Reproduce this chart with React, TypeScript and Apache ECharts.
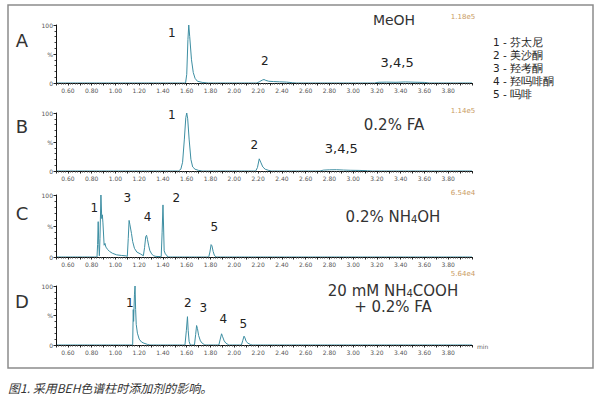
import React, { useEffect, useRef } from "react";
import * as echarts from "echarts";

// ---- data (retention time in min, relative intensity in %) ----
const traceA: [number, number][] = [
  [0.5, 0], [1.59, 0], [1.6, 15], [1.61, 75], [1.617, 100], [1.625, 80], [1.64, 40], [1.655, 18],
  [1.67, 8], [1.69, 3], [1.73, 1], [1.78, 0], [2.19, 0], [2.21, 2], [2.235, 5], [2.25, 6],
  [2.265, 4.5], [2.29, 3], [2.33, 2.5], [2.38, 2], [2.44, 1.5], [2.49, 0.5], [2.52, 0],
  [3.18, 0], [3.21, 1.2], [3.28, 1.5], [3.36, 1.2], [3.44, 1.8], [3.52, 1.3], [3.6, 1], [3.64, 0], [4.0, 0],
];
const traceB: [number, number][] = [
  [0.5, 0], [1.53, 0], [1.55, 3], [1.565, 15], [1.58, 55], [1.592, 92], [1.6, 100], [1.608, 90],
  [1.62, 55], [1.635, 20], [1.65, 7], [1.67, 3], [1.7, 1], [1.73, 0], [2.18, 0], [2.195, 6],
  [2.21, 21], [2.225, 14], [2.24, 7], [2.26, 3], [2.29, 1], [2.31, 0], [2.72, 0], [2.75, 1.5],
  [2.8, 2], [2.86, 2.2], [2.92, 1.6], [2.98, 1.2], [3.05, 1], [3.12, 0.5], [3.16, 0], [4.0, 0],
];
const traceC: [number, number][] = [
  [0.5, 0], [0.845, 0], [0.85, 20], [0.855, 57], [0.86, 20], [0.865, 2], [0.87, 30], [0.878, 100],
  [0.885, 62], [0.89, 68], [0.895, 55], [0.905, 19], [0.912, 22], [0.92, 16], [0.935, 12], [0.95, 9],
  [0.975, 6], [1.01, 3.5], [1.05, 2.5], [1.09, 1.8], [1.1, 1], [1.108, 30], [1.115, 59], [1.122, 52],
  [1.135, 38], [1.145, 25], [1.16, 14], [1.18, 8], [1.21, 5], [1.235, 2], [1.245, 15], [1.255, 33],
  [1.262, 35], [1.27, 28], [1.28, 18], [1.29, 10], [1.305, 5], [1.32, 2], [1.34, 1], [1.385, 0.5],
  [1.393, 40], [1.4, 84], [1.405, 50], [1.41, 10], [1.42, 5], [1.43, 3], [1.44, 0], [1.785, 0],
  [1.795, 8], [1.805, 20], [1.812, 18], [1.822, 9], [1.832, 3], [1.845, 0], [4.0, 0],
];
const traceD: [number, number][] = [
  [0.5, 0], [1.145, 0], [1.15, 60], [1.153, 40], [1.16, 85], [1.165, 100], [1.17, 60], [1.175, 35],
  [1.185, 20], [1.2, 10], [1.22, 5], [1.24, 3], [1.27, 1], [1.29, 0], [1.585, 0], [1.597, 25],
  [1.606, 48], [1.612, 25], [1.62, 6], [1.63, 0], [1.665, 0], [1.675, 18], [1.683, 33], [1.69, 28],
  [1.7, 16], [1.715, 7], [1.73, 3], [1.75, 0.5], [1.76, 0], [1.87, 0], [1.882, 10], [1.893, 19],
  [1.902, 14], [1.915, 7], [1.93, 3], [1.95, 0.5], [1.96, 0], [2.06, 0], [2.072, 8], [2.082, 15],
  [2.09, 12], [2.1, 6], [2.115, 3], [2.135, 1], [2.15, 0], [4.0, 0],
];
const traces = [traceA, traceB, traceC, traceD];

// peak annotations: [text, time, intensity]
const peaksA: [string, number, number][] = [["1", 1.474, 86], ["2", 2.256, 38], ["3,4,5", 3.37, 36]];
const peaksB: [string, number, number][] = [["1", 1.474, 97], ["2", 2.168, 45], ["3,4,5", 2.9, 38]];
const peaksC: [string, number, number][] = [["1", 0.822, 79], ["3", 1.1, 95], ["4", 1.27, 64], ["2", 1.512, 95], ["5", 1.831, 48]];
const peaksD: [string, number, number][] = [["1", 1.12, 71], ["2", 1.609, 71], ["3", 1.739, 63], ["4", 1.907, 44], ["5", 2.076, 36]];
const peaks = [peaksA, peaksB, peaksC, peaksD];

const panelLetters = ["A", "B", "C", "D"];
const scaleLabels = ["1.18e5", "1.14e5", "6.54e4", "5.64e4"];
const legendItems = ["1 - 芬太尼", "2 - 美沙酮", "3 - 羟考酮", "4 - 羟吗啡酮", "5 - 吗啡"];
const caption = "图1. 采用BEH色谱柱时添加剂的影响。";
const xMin = 0.5;
const xMax = 4.0;

// layout
const gridTops = [25, 113, 195, 286];
const gridHeights = [58, 58, 62, 59];
const gridLeft = 56;
const gridWidth = 416;

const FONT = "DejaVu Sans";
const LINE = "#3d8ea2";

export default function App() {
  const ref = useRef<HTMLDivElement>(null);
  useEffect(() => {
    if (!ref.current) return;
    const chart = echarts.init(ref.current, null, { renderer: "svg" });
    const grids = gridTops.map((t, i) => ({ left: gridLeft, width: gridWidth, top: t, height: gridHeights[i] }));
    const xAxes = gridTops.map((_, i) => ({
      type: "value",
      gridIndex: i,
      min: xMin,
      max: xMax,
      interval: 0.1,
      z: 3,
      axisLine: { lineStyle: { color: "#111", width: 1 } },
      axisTick: { show: true, length: 2.5, lineStyle: { color: "#222" } },
      minorTick: { show: true, splitNumber: 5, length: 1.5, lineStyle: { color: "#444" } },
      splitLine: { show: false },
      axisLabel: {
        fontSize: 6,
        color: "#555",
        fontFamily: FONT,
        margin: 4,
        formatter: (v: number) => {
          const k = Math.round(v * 10);
          if (Math.abs(v * 10 - k) > 1e-6 || k % 2 !== 0 || k < 6 || k > 38) return "";
          return (k / 10).toFixed(2);
        },
      },
    }));
    const yAxes = gridTops.map((_, i) => ({
      type: "value",
      gridIndex: i,
      min: 0,
      max: 100,
      interval: 50,
      z: 3,
      axisLine: { show: true, lineStyle: { color: "#111", width: 1 } },
      axisTick: { show: true, length: 2.5, lineStyle: { color: "#222" } },
      minorTick: { show: true, splitNumber: 5, length: 1.5, lineStyle: { color: "#444" } },
      splitLine: { show: false },
      axisLabel: {
        fontSize: 6,
        color: "#555",
        fontFamily: FONT,
        margin: 3,
        formatter: (v: number) => (v === 50 ? "%" : String(v)),
      },
    }));
    const series = traces.map((d, i) => ({
      type: "line",
      xAxisIndex: i,
      yAxisIndex: i,
      data: d,
      showSymbol: false,
      symbol: "none",
      lineStyle: { color: LINE, width: 1 },
      itemStyle: { color: LINE },
      z: 2,
      markPoint: {
        symbol: "circle",
        symbolSize: 1,
        itemStyle: { color: "rgba(0,0,0,0)" },
        silent: true,
        data: peaks[i].map(([txt, t, v]) => ({
          coord: [t, v],
          label: {
            show: true,
            position: "inside",
            formatter: txt,
            fontSize: txt.length > 1 ? 13 : 12,
            color: "#222",
            fontFamily: FONT,
          },
        })),
      },
    }));

    const graphic: any[] = [
      { type: "rect", shape: { x: 8, y: 5, width: 585, height: 363 }, style: { fill: "none", stroke: "#8c8c8c", lineWidth: 1.5 } },
    ];
    const letterYs = [40, 126, 213, 301];
    panelLetters.forEach((L, i) => {
      graphic.push({ type: "text", x: 22, y: letterYs[i], style: { text: L, fill: "#333", fontSize: 18, fontFamily: FONT, align: "center", verticalAlign: "middle" } });
    });
    const scaleYs = [17, 111, 193, 274];
    scaleLabels.forEach((s, i) => {
      graphic.push({ type: "text", x: 463, y: scaleYs[i], style: { text: s, fill: "#c99a62", fontSize: 7, fontFamily: FONT, align: "center", verticalAlign: "middle" } });
    });
    const condStyle = { fill: "#333", fontSize: 15, fontFamily: FONT, align: "center", verticalAlign: "middle" };
    graphic.push({ type: "text", x: 394, y: 20, style: { ...condStyle, text: "MeOH", fontSize: 14 } });
    graphic.push({ type: "text", x: 394, y: 125, style: { ...condStyle, text: "0.2% FA" } });
    graphic.push({
      type: "text", x: 393, y: 217,
      style: { ...condStyle, text: "0.2% NH{s|4}OH", rich: { s: { fontSize: 10, verticalAlign: "bottom", fill: "#333", fontFamily: FONT } } },
    });
    graphic.push({
      type: "text", x: 393, y: 291,
      style: { ...condStyle, text: "20 mM NH{s|4}COOH", rich: { s: { fontSize: 10, verticalAlign: "bottom", fill: "#333", fontFamily: FONT } } },
    });
    graphic.push({ type: "text", x: 393, y: 307, style: { ...condStyle, text: "+ 0.2% FA" } });
    graphic.push({ type: "text", x: 477, y: 346, style: { text: "min", fill: "#666", fontSize: 6, fontFamily: FONT, align: "left", verticalAlign: "middle" } });
    legendItems.forEach((s, i) => {
      graphic.push({ type: "text", x: 493, y: 42 + i * 13, style: { text: s, fill: "#222", fontSize: 10.5, fontFamily: FONT, align: "left", verticalAlign: "middle" } });
    });
    graphic.push({ type: "text", x: 8, y: 387, style: { text: caption, fill: "#333", fontSize: 12, fontStyle: "italic", fontFamily: "Noto Sans CJK SC", align: "left", verticalAlign: "middle" } });

    chart.setOption({
      animation: false,
      backgroundColor: "#ffffff",
      grid: grids,
      xAxis: xAxes,
      yAxis: yAxes,
      series,
      graphic,
    });
    return () => chart.dispose();
  }, []);
  return <div ref={ref} style={{ position: "fixed", left: 0, top: 0, width: 600, height: 396, background: "#fff" }} />;
}
